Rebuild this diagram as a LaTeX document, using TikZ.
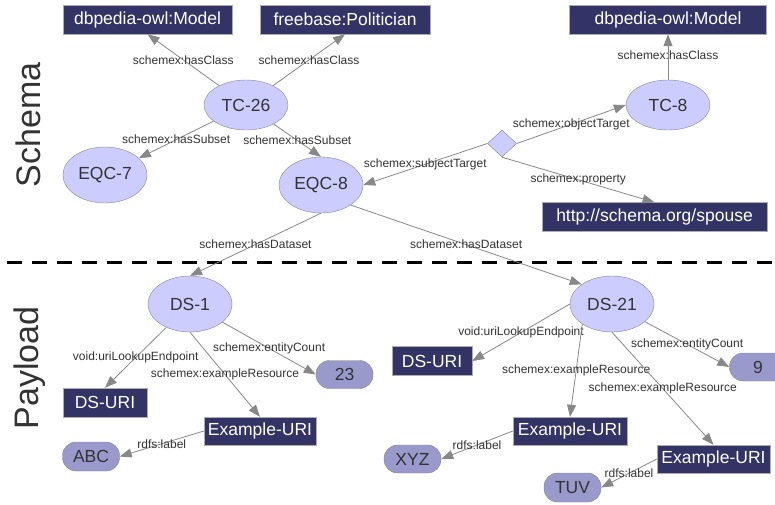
\documentclass[tikz,border=0pt]{standalone}
\usepackage{fontspec}
\setmainfont{Liberation Sans}
\usepackage{xcolor}
\usetikzlibrary{arrows.meta, shapes.geometric}
\definecolor{ClassBlue}{HTML}{333366}
\definecolor{EqcLilac}{HTML}{CCCCFF}
\definecolor{LitLilac}{HTML}{9999CC}
\definecolor{EdgeGray}{HTML}{888888}
\definecolor{TextGray}{HTML}{333333}

\begin{document}
\begin{tikzpicture}[x=1pt, y=-1pt,
    eqc/.style={ellipse, draw=EdgeGray, fill=EqcLilac, text=TextGray, inner sep=0pt,
        minimum width=84pt, minimum height=56pt, font=\fontsize{17.5}{20}\selectfont},
    tcls/.style={eqc, minimum height=50pt},
    cls/.style={rectangle, draw=EdgeGray!70, fill=ClassBlue, text=white, inner sep=0pt,
        minimum height=29pt, font=\fontsize{17.5}{20}\selectfont},
    lit/.style={rectangle, rounded corners=13.5pt, draw=EdgeGray, fill=LitLilac, text=TextGray,
        inner sep=0pt, minimum width=57pt, minimum height=28pt, font=\fontsize{17.5}{20}\selectfont},
    prop/.style={diamond, draw=EdgeGray, fill=EqcLilac, inner sep=0pt, minimum width=29pt, minimum height=27pt},
    rel/.style={draw=EdgeGray, line width=0.8pt, -{Triangle[length=12pt, width=9pt]}},
    lbl/.style={font=\fontsize{12}{14}\selectfont, text=TextGray, inner sep=1pt},
    side/.style={rotate=90, font=\fontsize{34}{40}\selectfont, text=TextGray}]
    \path[fill=white] (0,0) rectangle (775,504);
    \useasboundingbox (0,0) rectangle (775,504);

    % Schema part
    \node[side] (schema) at (28,125) {Schema};
    \node[cls, minimum width=169pt] (dbm1) at (147.5,19.5) {dbpedia-owl:Model};
    \node[cls, minimum width=170pt] (fb) at (345,19.5) {freebase:Politician};
    \node[cls, minimum width=197pt] (dbm2) at (668,19.5) {dbpedia-owl:Model};
    \node[tcls] (tc26) at (246,105) {TC-26};
    \node[tcls] (tc8) at (668,105) {TC-8};
    \node[eqc] (eqc7) at (105,175) {EQC-7};
    \node[eqc] (eqc8) at (321,185) {EQC-8};
    \node[prop] (dia) at (502,143.5) {};
    \node[cls, minimum width=225pt] (spouse) at (654.5,217) {http://schema.org/spouse};

    \draw[rel] (tc26) -- node[lbl] {schemex:hasClass} (dbm1.south);
    \draw[rel] (tc26) -- node[lbl] {schemex:hasClass} (fb.south);
    \draw[rel] (tc26) -- node[lbl] {schemex:hasSubset} (eqc7);
    \draw[rel] (tc26) -- node[lbl] {schemex:hasSubset} (eqc8.north);
    \draw[rel] (tc8) -- node[lbl, pos=0.55] {schemex:hasClass} (dbm2);
    \draw[rel] (dia.west) -- node[lbl] {schemex:subjectTarget} (eqc8.east);
    \draw[rel] (dia.east) -- node[lbl] {schemex:objectTarget} (tc8.west);
    \draw[rel] (dia.south) -- node[lbl] {schemex:property} (spouse.north);

    % Border between schema and payload
    \draw[line width=3pt, dash pattern=on 15pt off 10pt] (7,262) -- (775,262);

    % Payload part
    \node[side] (payload) at (30,368) {Payload};
    \node[eqc] (ds1) at (190,304) {DS-1};
    \node[eqc] (ds21) at (612,304) {DS-21};
    \node[cls, minimum width=84pt] (dsuri1) at (105,402.5) {DS-URI};
    \node[cls, minimum width=80pt] (dsuri2) at (432,361) {DS-URI};
    \node[cls, minimum width=112pt, minimum height=28pt] (exuri1) at (260,431) {Example-URI};
    \node[cls, minimum width=114pt, minimum height=28pt] (exuri2) at (570,431) {Example-URI};
    \node[cls, minimum width=113pt, minimum height=28pt] (exuri3) at (713.5,459) {Example-URI};
    \node[lit] (n23) at (344.5,374.5) {23};
    \node[lit] (n9) at (758,367) {9};
    \node[lit, minimum height=29pt] (abc) at (91,456.5) {ABC};
    \node[lit] (xyz) at (412.5,459) {XYZ};
    \node[lit, minimum height=29pt] (tuv) at (572.5,487.5) {TUV};

    \draw[rel] (eqc8.south) -- node[lbl] {schemex:hasDataset} (ds1.north);
    \draw[rel] (eqc8.-34) -- node[lbl] {schemex:hasDataset} (ds21.147);
    \draw[rel] (ds1) -- node[lbl] {void:uriLookupEndpoint} (dsuri1.north);
    \draw[rel] (ds1.south) -- node[lbl] {schemex:exampleResource} (exuri1.north);
    \draw[rel] (ds1) -- node[lbl] {schemex:entityCount} (n23.west);
    \draw[rel] (exuri1.west) -- node[lbl] {rdfs:label} (abc.east);
    \draw[rel] (ds21.west) -- node[lbl] {void:uriLookupEndpoint} (dsuri2.east);
    \draw[rel] (ds21.214) -- node[lbl] {schemex:exampleResource} (exuri2.north);
    \draw[rel] (ds21.south) -- node[lbl] {schemex:exampleResource} (exuri3.north);
    \draw[rel] (ds21) -- node[lbl] {schemex:entityCount} (n9.west);
    \draw[rel] (exuri2.west) -- node[lbl] {rdfs:label} (xyz.east);
    \draw[rel] (exuri3.west) -- node[lbl] {rdfs:label} (tuv.east);
\end{tikzpicture}
\end{document}
